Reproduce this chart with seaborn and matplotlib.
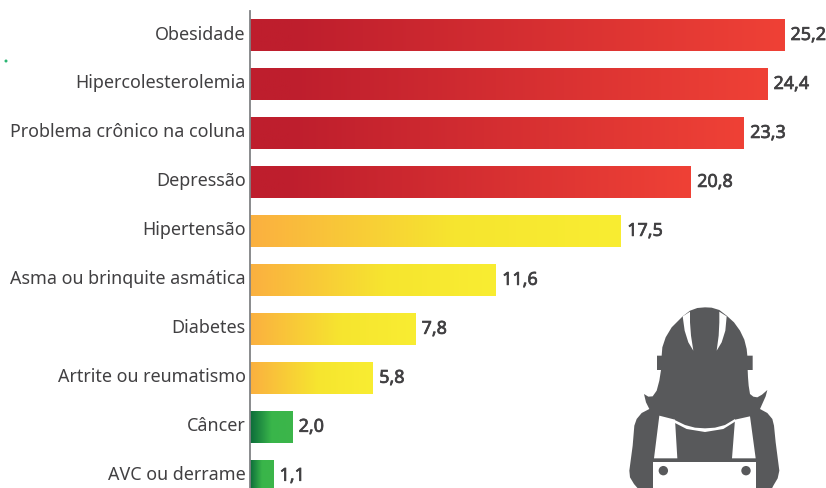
import numpy as np
import pandas as pd
import seaborn as sns
import matplotlib.pyplot as plt
import matplotlib.patheffects as pe
from matplotlib.colors import LinearSegmentedColormap
from matplotlib.patches import Polygon, Circle
from matplotlib.transforms import ScaledTranslation

doencas = ["Obesidade", "Hipercolesterolemia", "Problema crônico na coluna", "Depressão",
           "Hipertensão", "Asma ou brinquite asmática", "Diabetes", "Artrite ou reumatismo",
           "Câncer", "AVC ou derrame"]
valores = [25.2, 24.4, 23.3, 20.8, 17.5, 11.6, 7.8, 5.8, 2.0, 1.1]
rotulos = ["25,2", "24,4", "23,3", "20,8", "17,5", "11,6", "7,8", "5,8", "2,0", "1,1"]
grupos = ["alto"] * 4 + ["medio"] * 4 + ["baixo"] * 2

gradientes = {
    "alto": [(0, "#BE1E2D"), (0.08, "#BE1E2D"), (1, "#EF4136")],
    "medio": [(0, "#FBB040"), (0.55, "#F6E52F"), (1, "#F9ED32")],
    "baixo": [(0, "#0B6B3A"), (0.5, "#39B54A"), (1, "#3CB64A")],
}
texto = "#414042"
cinza = "#58595B"

sns.set_theme(style="white")
plt.rcParams["font.family"] = ["Noto Sans", "DejaVu Sans"]

df = pd.DataFrame({"doenca": doencas, "valor": valores})

fig = plt.figure(figsize=(8.26, 4.89), dpi=100)
ax = fig.add_axes([250 / 826, 0, 576 / 826, 477 / 489])
sns.barplot(data=df, x="valor", y="doenca", orient="h", width=0.65, color="#999999", ax=ax)
limite_x = (0, 576 / 21.2)
limite_y = (9.25, -0.49)
ax.set_xlabel("")
ax.set_ylabel("")
ax.set_xticks([])
ax.tick_params(axis="y", length=0, pad=3.2, labelsize=12.9, labelcolor=texto)
sns.despine(ax=ax, top=True, right=True, bottom=True)
ax.spines["left"].set_color("#808285")
ax.spines["left"].set_linewidth(1.3)

# rotulos um pouco acima do centro da barra
sobe = ScaledTranslation(0, 2.5 / 72, fig.dpi_scale_trans)
for rot in ax.get_yticklabels():
    rot.set_transform(rot.get_transform() + sobe)

# gradiente dentro de cada barra
for barra, grupo in zip(ax.patches, grupos):
    cmap = LinearSegmentedColormap.from_list(grupo, gradientes[grupo])
    x0, y0 = barra.get_xy()
    w, h = barra.get_width(), barra.get_height()
    img = ax.imshow(np.linspace(0, 1, 256).reshape(1, -1), cmap=cmap, aspect="auto",
                    extent=[x0, x0 + w, y0 + h, y0], zorder=2)
    img.set_clip_path(barra)
    barra.set_edgecolor("none")
ax.set_xlim(*limite_x)
ax.set_ylim(*limite_y)

numeros = ax.bar_label(ax.containers[0], labels=rotulos, padding=4.5, fontsize=12.9, fontweight="bold",
                       color=texto, clip_on=False)
desce = ScaledTranslation(0, -1 / 72, fig.dpi_scale_trans)
for n in numeros:
    n.set_path_effects([pe.withStroke(linewidth=0.5, foreground=texto)])
    n.set_transform(n.get_transform() + desce)

# icone da trabalhadora, desenhado em pixels da figura
ov = fig.add_axes([0, 0, 1, 1])
ov.set_xlim(0, 826)
ov.set_ylim(489, 0)
ov.axis("off")
ov.patch.set_alpha(0)


def p(pts):
    return [(610 + a / 3, 290 + b / 3) for a, b in pts]


silhueta = [(285, 55), (305, 56), (328, 63), (350, 80), (372, 100), (390, 125), (403, 152), (410, 180), (412, 200),
            (428, 200), (428, 243), (413, 243), (414, 265), (416, 290), (420, 315), (430, 323), (442, 325), (456, 317),
            (472, 303), (467, 322), (450, 360), (472, 372), (487, 390), (492, 410), (497, 460), (508, 545), (503, 568),
            (490, 590), (485, 600), (85, 600), (72, 585), (60, 565), (58, 545), (68, 470), (73, 410), (80, 390),
            (95, 372), (118, 360), (108, 340), (102, 315), (115, 323), (128, 322), (140, 305), (148, 275), (153, 243),
            (141, 243), (141, 200), (155, 200), (157, 175), (167, 145), (185, 115), (218, 82), (240, 65), (262, 57)]
brancos = [
    [(218, 82), (240, 68), (240, 100), (243, 140), (250, 185), (235, 160), (224, 125)],
    [(350, 82), (328, 68), (328, 100), (326, 140), (320, 185), (335, 160), (346, 125)],
    [(148, 380), (195, 392), (202, 508), (132, 508)],
    [(375, 392), (420, 382), (437, 508), (366, 508)],
    [(192, 392), (225, 408), (255, 416), (285, 418), (315, 416), (345, 408), (375, 390), (375, 398), (340, 420),
     (285, 429), (230, 420), (195, 402)],
    [(130, 520), (438, 520), (438, 600), (130, 600)],
]
ov.add_patch(Polygon(p(silhueta), closed=True, fc=cinza, ec="none"))
for forma in brancos:
    ov.add_patch(Polygon(p(forma), closed=True, fc="white", ec="none"))
for cx, cy in [(160, 545), (408, 545)]:
    ov.add_patch(Circle(p([(cx, cy)])[0], 4.7, fc=cinza, ec="none"))
ov.add_patch(Circle((6, 62), 1.5, fc="#2BB673", ec="none"))

fig.savefig("out.png", dpi=100)
